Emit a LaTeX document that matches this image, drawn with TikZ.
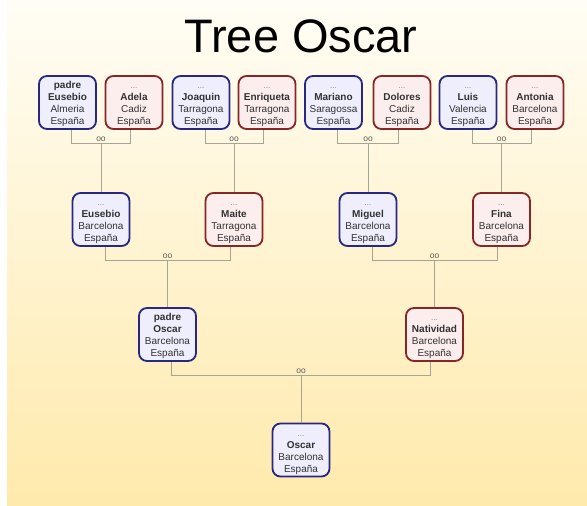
\documentclass[tikz,border=0pt]{standalone}
\usepackage{fontspec}
\setmainfont{Liberation Sans}
\usetikzlibrary{positioning}
\definecolor{bgtop}{RGB}{255,253,245}
\definecolor{bgbot}{RGB}{255,234,172}
\definecolor{mdraw}{RGB}{40,40,130}
\definecolor{mfill}{RGB}{238,238,253}
\definecolor{fdraw}{RGB}{135,38,38}
\definecolor{ffill}{RGB}{253,238,238}
\definecolor{linkc}{RGB}{165,165,150}
\definecolor{txt}{RGB}{50,50,50}
\tikzset{
  person/.style={rectangle, rounded corners=8pt, line width=1.8pt, minimum width=57pt, minimum height=53pt,
    inner sep=1pt, align=center, text=txt, font=\fontsize{10}{12}\selectfont},
  male/.style={person, draw=mdraw, fill=mfill},
  female/.style={person, draw=fdraw, fill=ffill},
  link/.style={draw=linkc, line width=1pt},
  oo/.style={font=\fontsize{8.5}{8.5}\selectfont, text=txt!80, inner sep=1pt, anchor=south}
}
\newcommand\myellip{\rule{0pt}{11pt}{\fontsize{8}{12}\selectfont\color{gray}...}}
\newcommand\mytop{\rule{0pt}{11pt}}
\newcommand\couple[3]{%
  \path ([xshift=4pt]#1.south) ++(0,-14pt) coordinate (#3bar);
  \draw[link] ([xshift=4pt]#1.south) -- (#3bar) -| ([xshift=-4pt]#2.south);
  \draw[link] (#3bar -| #3.north) -- (#3.north);
  \node[oo] (#3oo) at (#3bar -| #3.north) [yshift=1.5pt] {oo};
}
\begin{document}
\begin{tikzpicture}[x=1pt,y=-1pt]
\useasboundingbox (0,0) rectangle (587,506);
\shade[top color=bgtop, bottom color=bgbot] (7,0) rectangle (587,506);
\node[font=\fontsize{47}{50}\selectfont, anchor=base, text=black, inner sep=0pt] (title) at (301,52) {Tree Oscar};
% row 1
\node[male]   (pe)  at (67.5,102.5) {\mytop\textbf{padre}\\\textbf{Eusebio}\\Almeria\\España};
\node[female] (ad)  at (134,102.5) {\myellip\\\textbf{Adela}\\Cadiz\\España};
\node[male]   (jo)  at (201,102.5) {\myellip\\\textbf{Joaquin}\\Tarragona\\España};
\node[female] (en)  at (267,102.5) {\myellip\\\textbf{Enriqueta}\\Tarragona\\España};
\node[male]   (ma)  at (333.5,102.5) {\myellip\\\textbf{Mariano}\\Saragossa\\España};
\node[female] (do)  at (402,102.5) {\myellip\\\textbf{Dolores}\\Cadiz\\España};
\node[male]   (lu)  at (468,102.5) {\myellip\\\textbf{Luis}\\Valencia\\España};
\node[female] (an)  at (535,102.5) {\myellip\\\textbf{Antonia}\\Barcelona\\España};
% row 2
\node[male]   (eu)  at (101,219.5) {\myellip\\\textbf{Eusebio}\\Barcelona\\España};
\node[female] (mt)  at (234,219.5) {\myellip\\\textbf{Maite}\\Tarragona\\España};
\node[male]   (mi)  at (368,219.5) {\myellip\\\textbf{Miguel}\\Barcelona\\España};
\node[female] (fi)  at (501.5,219.5) {\myellip\\\textbf{Fina}\\Barcelona\\España};
% row 3
\node[male]   (po)  at (167.5,334.5) {\mytop\textbf{padre}\\\textbf{Oscar}\\Barcelona\\España};
\node[female] (na)  at (434.5,334.5) {\myellip\\\textbf{Natividad}\\Barcelona\\España};
% row 4
\node[male]   (os)  at (301,450) {\myellip\\\textbf{Oscar}\\Barcelona\\España};
% marriages
\couple{pe}{ad}{eu}
\couple{jo}{en}{mt}
\couple{ma}{do}{mi}
\couple{lu}{an}{fi}
\couple{eu}{mt}{po}
\couple{mi}{fi}{na}
\couple{po}{na}{os}
\end{tikzpicture}
\end{document}
